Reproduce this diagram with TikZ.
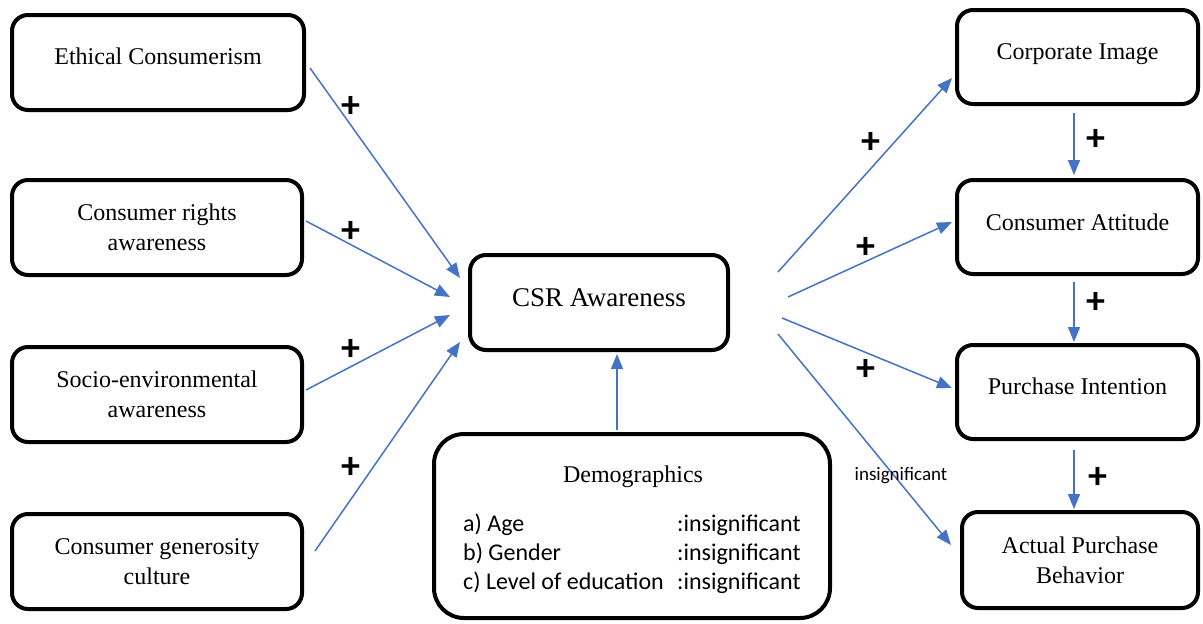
\documentclass[tikz,border=0pt]{standalone}
\usepackage{fontspec}
\setmainfont{Liberation Serif}
\newfontfamily\calfont{Carlito}
\usetikzlibrary{arrows.meta}
\definecolor{arrblue}{RGB}{68,114,196}
\begin{document}
\begin{tikzpicture}[x=1pt,y=-1pt,
  box/.style={draw=black,line width=4pt,rounded corners=16pt,align=center,
    font=\fontsize{24}{30}\selectfont,inner sep=0pt},
  conn/.style={draw=arrblue,line width=1.5pt,-{Triangle[length=15pt,width=12pt]}},
  plus/.style={font=\calfont\bfseries\fontsize{38}{38}\selectfont,inner sep=0pt},
  sans/.style={font=\calfont\fontsize{24}{28}\selectfont,inner sep=0pt}]
\useasboundingbox (0,0) rectangle (1203,624);
% left boxes
\node[box,minimum width=292pt,minimum height=95pt] (eth) at (158,62.5) {\raisebox{12pt}{Ethical Consumerism}};
\node[box,minimum width=290pt,minimum height=95pt] (rig) at (157,227.5) {Consumer rights\\awareness};
\node[box,minimum width=290pt,minimum height=95pt] (soc) at (157,394.5) {Socio-environmental\\awareness};
\node[box,minimum width=290pt,minimum height=95pt] (gen) at (157,561.5) {Consumer generosity\\culture};
% center
\node[box,minimum width=258pt,minimum height=95pt,font=\fontsize{27}{30}\selectfont] (csr) at (599,302.5) {\raisebox{9pt}{CSR Awareness}};
\node[box,minimum width=396pt,minimum height=184pt,rounded corners=30pt] (dem) at (632,526) {};
\node[font=\fontsize{24}{28}\selectfont,inner sep=0pt] (demt) at (633,477) {Demographics};
\node[sans,anchor=base west] (a1) at (463,531) {a) Age};
\node[sans,anchor=base west] (a2) at (463,560) {b) Gender};
\node[sans,anchor=base west] (a3) at (463,589) {c) Level of education};
\node[sans,anchor=base west] (b1) at (677,531) {:insignificant};
\node[sans,anchor=base west] (b2) at (677,560) {:insignificant};
\node[sans,anchor=base west] (b3) at (677,589) {:insignificant};
% right boxes
\node[box,minimum width=241pt,minimum height=94pt] (cor) at (1077.5,57) {\raisebox{10pt}{Corporate Image}};
\node[box,minimum width=241pt,minimum height=94pt] (att) at (1077.5,227) {\raisebox{10pt}{Consumer Attitude}};
\node[box,minimum width=241pt,minimum height=94pt] (int) at (1077.5,392) {\raisebox{11pt}{Purchase Intention}};
\node[box,minimum width=236pt,minimum height=96pt] (act) at (1080,560) {Actual Purchase\\Behavior};
% connectors left
\draw[conn] ([shift={(4,5.5)}]eth.east) -- ([shift={(-8,-24.5)}]csr.west);
\draw[conn] ([shift={(2,-6.5)}]rig.east) -- ([shift={(-18,-5.5)}]csr.west);
\draw[conn] ([shift={(2,-4.5)}]soc.east) -- ([shift={(-18,12.5)}]csr.west);
\draw[conn] ([shift={(11,-10.5)}]gen.east) -- ([shift={(-8,39.5)}]csr.west);
\draw[conn] ([shift={(-15,-2)}]dem.north) -- ([shift={(18,2)}]csr.south);
% connectors right
\draw[conn] ([shift={(48,-30.5)}]csr.east) -- ([shift={(-3,21)}]cor.west);
\draw[conn] ([shift={(58,-5.5)}]csr.east) -- ([shift={(-3,-5)}]att.west);
\draw[conn] ([shift={(52,15.5)}]csr.east) -- ([shift={(-3,-4)}]int.west);
\draw[conn] ([shift={(48,31.5)}]csr.east) -- ([shift={(-9,-15)}]act.west);
\draw[conn] ([shift={(-3.5,7)}]cor.south) -- ([shift={(-3.5,-3)}]att.north);
\draw[conn] ([shift={(-3.5,6)}]att.south) -- ([shift={(-3.5,-1)}]int.north);
\draw[conn] ([shift={(-3.5,9)}]int.south) -- ([shift={(-6,-1)}]act.north);
% plus labels
\node[plus] (p1) at (351,107) {+};
\node[plus] (p2) at (351,232) {+};
\node[plus] (p3) at (351,350) {+};
\node[plus] (p4) at (351,468) {+};
\node[plus] (p5) at (871,143) {+};
\node[plus] (p6) at (866,248) {+};
\node[plus] (p7) at (866,370) {+};
\node[plus] (p8) at (1096,140) {+};
\node[plus] (p9) at (1096,303) {+};
\node[plus] (p10) at (1098,478) {+};
\node[font=\calfont\fontsize{19}{22}\selectfont,inner sep=0pt] (ins) at (901,476) {insignificant};
\end{tikzpicture}
\end{document}
